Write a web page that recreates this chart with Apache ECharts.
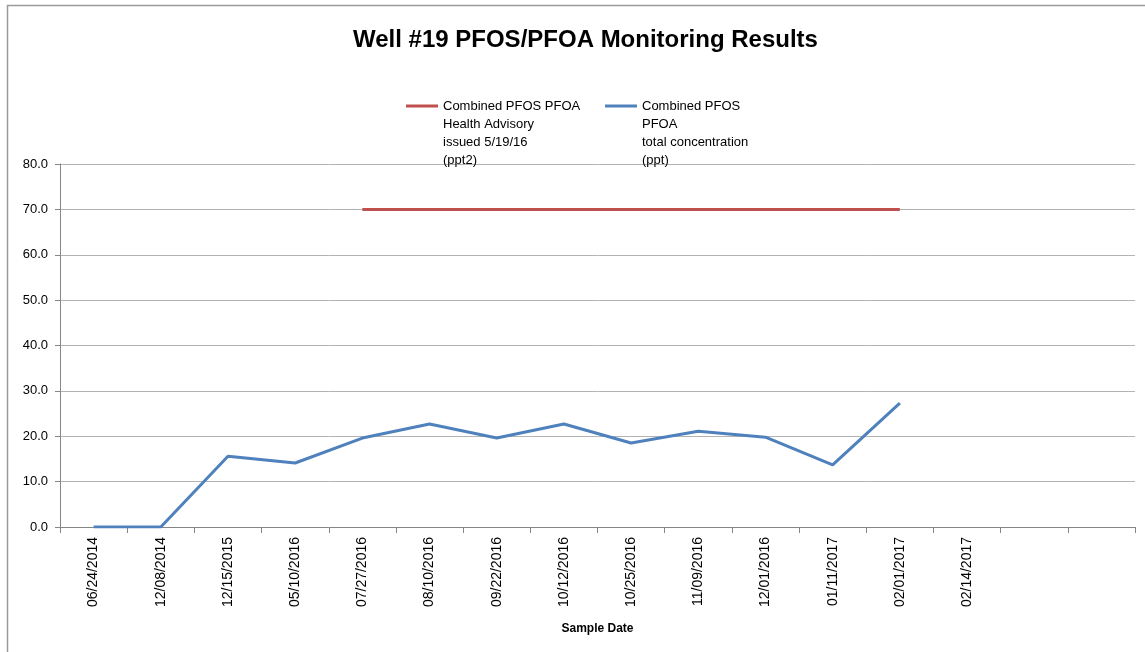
<!DOCTYPE html>
<html>
<head>
<meta charset="utf-8">
<script src="https://cdn.jsdelivr.net/npm/echarts@6/dist/echarts.min.js"></script>
<style>html,body{margin:0;padding:0;background:#fff}#c{width:1145px;height:652px}</style>
</head>
<body>
<div id="c"></div>
<script>
const categories = ['06/24/2014','12/08/2014','12/15/2015','05/10/2016','07/27/2016','08/10/2016','09/22/2016','10/12/2016','10/25/2016','11/09/2016','12/01/2016','01/11/2017','02/01/2017','02/14/2017','',''];
const advisory = [null,null,null,null,70,70,70,70,70,70,70,70,70,null,null,null];
const concentration = [0,0,15.6,14.1,19.6,22.7,19.6,22.7,18.5,21.1,19.8,13.7,27.3,null,null,null];
const yTicks = {min:0, max:80, interval:10};
const nameAdvisory = 'Combined PFOS PFOA\nHealth Advisory\nissued 5/19/16\n(ppt2)';
const nameConc = 'Combined PFOS\nPFOA\ntotal concentration\n(ppt)';

const font = 'Liberation Sans, Arial, sans-serif';
const chart = echarts.init(document.getElementById('c'));
const legendText = {fontFamily: font, fontSize: 13, color:'#000', lineHeight:18};
// line icon drawn at the height of the first text line
const legendIcon = 'path://M0,7.5L32,7.5L32,10.5L0,10.5Z M0,0L0.01,0L0.01,0.01Z M0,71.99L0.01,71.99L0.01,72Z';
chart.setOption({
  animation:false,
  backgroundColor:'#fff',
  title:{text:'Well #19 PFOS/PFOA Monitoring Results', left:348, top:23, textStyle:{fontFamily:font, fontSize:24, fontWeight:'bold', color:'#000'}},
  legend:[
    {data:[nameAdvisory], left:406, top:97, itemWidth:32, itemHeight:72, itemGap:0, icon:legendIcon, textStyle:legendText, selectedMode:false, padding:0},
    {data:[nameConc], left:605, top:97, itemWidth:32, itemHeight:72, itemGap:0, icon:legendIcon, textStyle:legendText, selectedMode:false, padding:0}
  ],
  graphic:[{type:'rect', shape:{x:7.5, y:5.5, width:1200, height:700}, style:{fill:'none', stroke:'#9a9a9a', lineWidth:1.5}, silent:true}],
  grid:{left:60, right:10, top:164, bottom:125, containLabel:false},
  xAxis:{type:'category', data:categories, boundaryGap:true,
    name:'Sample Date', nameLocation:'middle', nameGap:96,
    nameTextStyle:{fontFamily:font, fontSize:12, fontWeight:'bold', color:'#000'},
    axisLine:{lineStyle:{color:'#868686'}}, axisTick:{show:true, length:6, lineStyle:{color:'#868686'}, alignWithLabel:false},
    axisLabel:{rotate:90, fontFamily:font, fontSize:14, color:'#000', margin:10, interval:0}},
  yAxis:{type:'value', min:yTicks.min, max:yTicks.max, interval:yTicks.interval,
    axisLabel:{formatter:v=>v.toFixed(1), fontFamily:font, fontSize:13, color:'#000', margin:12},
    axisLine:{show:true, lineStyle:{color:'#868686'}}, axisTick:{show:true, length:5, lineStyle:{color:'#868686'}},
    splitLine:{lineStyle:{color:'#b3b3b3'}}},
  series:[
    {name:nameAdvisory, type:'line', data:advisory, showSymbol:false, symbol:'none', lineStyle:{color:'#C0504D', width:3}, itemStyle:{color:'#C0504D'}, connectNulls:false},
    {name:nameConc, type:'line', data:concentration, showSymbol:false, symbol:'none', lineStyle:{color:'#4F81BD', width:3}, itemStyle:{color:'#4F81BD'}, connectNulls:false}
  ]
});
</script>
</body>
</html>
